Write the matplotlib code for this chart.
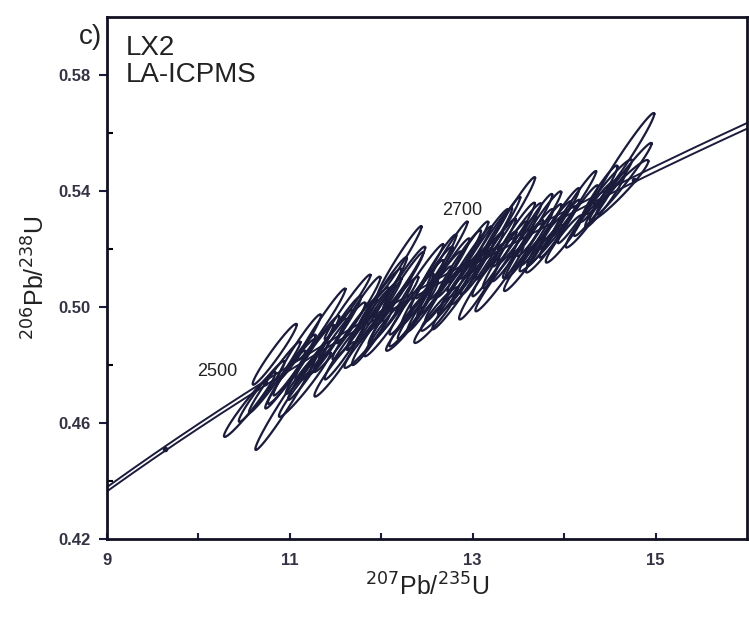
import numpy as np
import matplotlib
matplotlib.use("Agg")
import matplotlib.pyplot as plt

plt.rcParams['font.family'] = ['Liberation Sans', 'DejaVu Sans']

# ---- data: error ellipses (centre, 2-sigma half extents, correlation) ----
ell_x = [10.561, 10.943, 10.692, 10.834, 10.834, 11.020, 11.162, 11.216, 11.347, 11.380,
         11.489, 11.544, 11.631, 11.707, 11.817, 11.893, 11.980, 12.035, 12.144, 12.199,
         12.253, 12.330, 12.417, 12.199, 12.526, 12.581, 12.635, 12.745, 12.799, 12.723,
         12.908, 12.963, 13.072, 13.127, 13.236, 13.290, 13.400, 13.454, 13.509, 13.563,
         13.618, 13.727, 13.782, 13.836, 13.945, 14.000, 14.109, 14.218, 14.328, 14.382,
         14.655, 14.655, 14.600, 14.491, 13.814, 12.308, 12.635,
         11.10, 11.45, 11.75, 12.05, 12.45, 12.85, 13.20, 13.35, 13.65, 13.00, 12.60, 11.90,
         11.05, 11.30, 11.55, 11.60, 11.85, 12.10, 12.25, 12.40, 12.55, 12.70, 12.85, 13.10,
         13.25, 13.45, 13.55, 13.75, 13.95, 14.15, 14.45, 11.20, 10.95, 12.00, 12.95, 13.30]
ell_y = [0.4664, 0.4664, 0.4709, 0.4758, 0.4837, 0.4778, 0.4733, 0.4820, 0.4941, 0.4855,
         0.4785, 0.4896, 0.5000, 0.4924, 0.4872, 0.4965, 0.5028, 0.4924, 0.4993, 0.5062,
         0.4924, 0.5010, 0.5097, 0.5159, 0.5028, 0.4958, 0.5080, 0.5132, 0.5028, 0.5183,
         0.5097, 0.5166, 0.5062, 0.5218, 0.5149, 0.5097, 0.5305, 0.5201, 0.5253, 0.5149,
         0.5218, 0.5287, 0.5201, 0.5253, 0.5305, 0.5235, 0.5357, 0.5287, 0.5339, 0.5391,
         0.5512, 0.5443, 0.5402, 0.5415, 0.5235, 0.4958, 0.4993,
         0.4860, 0.4880, 0.4990, 0.5060, 0.5050, 0.5150, 0.5230, 0.5180, 0.5280, 0.5120, 0.5140, 0.4900,
         0.4800, 0.4860, 0.4930, 0.4850, 0.4960, 0.4980, 0.5100, 0.4990, 0.5100, 0.5050, 0.5080, 0.5150,
         0.5200, 0.5250, 0.5200, 0.5250, 0.5270, 0.5320, 0.5370, 0.4780, 0.4750, 0.5000, 0.5190, 0.5270]
ell_sx = [0.282, 0.321, 0.251, 0.282, 0.241, 0.261, 0.282, 0.261, 0.261, 0.241,
          0.221, 0.282, 0.251, 0.241, 0.221, 0.261, 0.241, 0.221, 0.261, 0.261,
          0.201, 0.241, 0.261, 0.241, 0.241, 0.221, 0.241, 0.221, 0.241, 0.221,
          0.261, 0.241, 0.221, 0.261, 0.241, 0.261, 0.282, 0.241, 0.241, 0.221,
          0.261, 0.241, 0.201, 0.241, 0.221, 0.201, 0.241, 0.201, 0.221, 0.201,
          0.331, 0.302, 0.321, 0.251, 0.302, 0.221, 0.201,
          0.24, 0.23, 0.24, 0.23, 0.23, 0.24, 0.23, 0.24, 0.22, 0.23, 0.22, 0.22,
          0.23, 0.24, 0.23, 0.22, 0.23, 0.24, 0.23, 0.22, 0.23, 0.22, 0.23, 0.23,
          0.22, 0.23, 0.22, 0.22, 0.22, 0.22, 0.22, 0.22, 0.22, 0.22, 0.22, 0.22]
ell_sy = [0.0112, 0.0157, 0.0105, 0.0123, 0.0105, 0.0112, 0.0112, 0.0120, 0.0123, 0.0105,
          0.0094, 0.0120, 0.0112, 0.0105, 0.0082, 0.0112, 0.0105, 0.0094, 0.0112, 0.0127,
          0.0075, 0.0105, 0.0120, 0.0120, 0.0112, 0.0082, 0.0112, 0.0105, 0.0105, 0.0112,
          0.0112, 0.0112, 0.0105, 0.0120, 0.0112, 0.0112, 0.0143, 0.0112, 0.0105, 0.0094,
          0.0120, 0.0112, 0.0082, 0.0112, 0.0105, 0.0082, 0.0112, 0.0082, 0.0094, 0.0097,
          0.0157, 0.0123, 0.0105, 0.0094, 0.0112, 0.0094, 0.0075,
          0.0115, 0.0110, 0.0115, 0.0112, 0.0112, 0.0115, 0.0112, 0.0115, 0.0110, 0.0110, 0.0110, 0.0100,
          0.0105, 0.0110, 0.0108, 0.0100, 0.0108, 0.0110, 0.0108, 0.0100, 0.0108, 0.0100, 0.0105, 0.0108,
          0.0105, 0.0110, 0.0100, 0.0105, 0.0100, 0.0100, 0.0095, 0.0100, 0.0100, 0.0100, 0.0105, 0.0110]
ell_rho = [0.97, 0.98, 0.97, 0.98, 0.97, 0.97, 0.97, 0.98, 0.98, 0.97,
           0.96, 0.97, 0.98, 0.97, 0.95, 0.97, 0.97, 0.96, 0.97, 0.98,
           0.95, 0.97, 0.98, 0.98, 0.97, 0.95, 0.97, 0.97, 0.97, 0.98,
           0.97, 0.98, 0.96, 0.98, 0.97, 0.97, 0.98, 0.97, 0.97, 0.96,
           0.97, 0.97, 0.95, 0.97, 0.97, 0.95, 0.98, 0.95, 0.96, 0.96,
           0.98, 0.98, 0.96, 0.96, 0.97, 0.96, 0.95,
           0.97, 0.97, 0.97, 0.97, 0.97, 0.97, 0.97, 0.97, 0.97, 0.97, 0.97, 0.96,
           0.97, 0.97, 0.97, 0.97, 0.97, 0.97, 0.97, 0.97, 0.97, 0.97, 0.97, 0.97,
           0.97, 0.97, 0.97, 0.97, 0.97, 0.97, 0.96, 0.97, 0.97, 0.97, 0.97, 0.98]

# ---- concordia ----
lam235 = 9.8485e-10
lam238 = 1.55125e-10
band_rel = 0.0014              # relative decay-constant uncertainty (band)
marker_ages = [2400e6, 2500e6, 2600e6, 2700e6, 2800e6]
label_ages = ["2500", "2700"]
label_pos_x = [10.21, 12.89]
label_pos_y = [0.4778, 0.5332]

xlim = (9, 16)
ylim = (0.42, 0.60)
xticks = [9, 11, 13, 15]
yticks = [0.42, 0.46, 0.50, 0.54, 0.58]

ink = '#1b1b3c'

fig = plt.figure(figsize=(7.49, 6.21), dpi=100)
ax = fig.add_axes([0.1429, 0.132, 0.8544, 0.8406])

t = np.linspace(2.0e9, 3.2e9, 800)
for s in (-1, 1):
    cx = np.exp(lam235 * (1 + s * band_rel) * t) - 1
    cy = np.exp(lam238 * t) - 1
    ax.plot(cx, cy, color=ink, lw=1.4, zorder=2)

ma = np.array(marker_ages)
ax.plot(np.exp(lam235 * ma) - 1, np.exp(lam238 * ma) - 1, 'o', ms=3, color=ink, zorder=2)

th = np.linspace(0, 2 * np.pi, 240)
for x0, y0, sx, sy, r in zip(ell_x, ell_y, ell_sx, ell_sy, ell_rho):
    ex = x0 + sx * np.cos(th)
    ey = y0 + sy * (r * np.cos(th) + np.sqrt(1 - r * r) * np.sin(th))
    ax.plot(ex, ey, color=ink, lw=1.6, zorder=3)

for lab, lx, ly in zip(label_ages, label_pos_x, label_pos_y):
    ax.text(lx, ly, lab, fontsize=13, color='#222222', ha='center', va='center', zorder=4)

ax.text(0.03, 0.965, "LX2\nLA-ICPMS", transform=ax.transAxes, fontsize=20,
        ha='left', va='top', color='#222222', linespacing=1.05)
fig.text(0.105, 0.94, "c)", fontsize=20, ha='left', va='center', color='#222222')

ax.set_xlim(*xlim)
ax.set_ylim(*ylim)
ax.set_xticks(xticks)
ax.set_xticks([10, 12, 14], minor=True)
ax.set_yticks(yticks)
ax.set_yticklabels([f"{v:.2f}" for v in yticks])
ax.set_yticks([0.44, 0.48, 0.52, 0.56], minor=True)
ax.tick_params(axis='x', which='both', direction='in', length=4, width=1.5,
               labelsize=12, pad=10, colors=ink)
ax.tick_params(axis='y', which='major', direction='out', length=6, width=1.5,
               labelsize=12, pad=6, colors=ink)
ax.tick_params(axis='y', which='minor', direction='in', length=4, width=1.5)
for lbl in ax.get_xticklabels() + ax.get_yticklabels():
    lbl.set_fontweight('bold')
    lbl.set_color('#333344')
for sp in ax.spines.values():
    sp.set_linewidth(2.0)
    sp.set_color('#111122')

ax.set_xlabel(r"$^{207}$Pb/$^{235}$U", fontsize=18, color='#222222', labelpad=4)
ax.set_ylabel(r"$^{206}$Pb/$^{238}$U", fontsize=18, color='#222222', labelpad=6)

fig.savefig("out.png", dpi=100)
